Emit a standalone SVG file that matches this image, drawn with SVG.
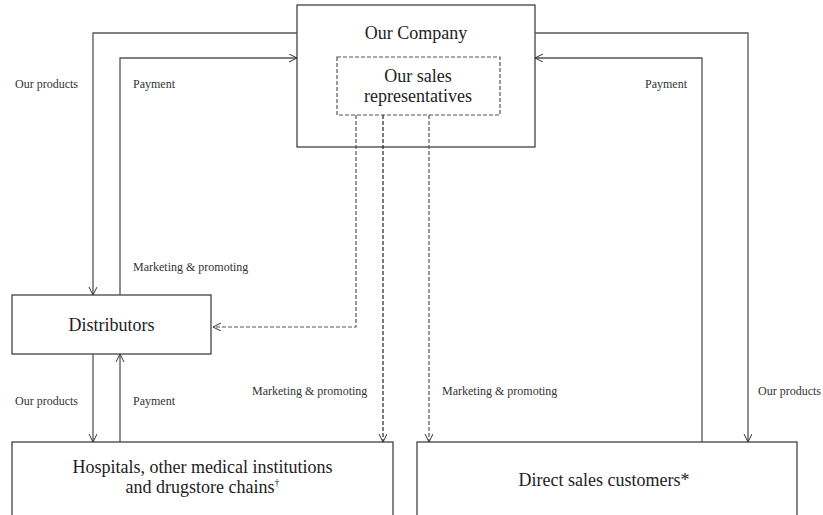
<svg xmlns="http://www.w3.org/2000/svg" width="823" height="515" viewBox="0 0 823 515">
<defs>
<marker id="ah" markerWidth="10" markerHeight="10" refX="8" refY="4" orient="auto" markerUnits="userSpaceOnUse">
<path d="M0,0 L8,4 L0,8" fill="none" stroke="#333" stroke-width="1"/>
</marker>
<style>
.box{fill:#fff;stroke:#333;stroke-width:1.2}
.dbox{fill:none;stroke:#555;stroke-width:1.2;stroke-dasharray:4,2}
.ln{fill:none;stroke:#555;stroke-width:1.3}
.dl{fill:none;stroke:#555;stroke-width:1.2;stroke-dasharray:4,2}
.big{font-family:"Liberation Serif","Times New Roman",serif;font-size:18px;fill:#222;text-anchor:middle}
.sm{font-family:"Liberation Serif","Times New Roman",serif;font-size:12px;fill:#333}
</style>
</defs>
<g id="company">
<rect class="box" x="297" y="5" width="238" height="142"/>
<text class="big" x="416" y="39">Our Company</text>
</g>
<g id="sales-reps">
<rect class="dbox" x="337" y="57" width="163" height="58"/>
<text class="big" x="418" y="82">Our sales</text>
<text class="big" x="418" y="102">representatives</text>
</g>
<g id="distributors">
<rect class="box" x="12" y="295" width="199" height="59"/>
<text class="big" x="111.5" y="331">Distributors</text>
</g>
<g id="hospitals">
<rect class="box" x="12" y="442" width="381" height="80"/>
<text class="big" x="202.5" y="473">Hospitals, other medical institutions</text>
<text class="big" x="202.5" y="493">and drugstore chains<tspan font-size="10" dy="-7">†</tspan></text>
</g>
<g id="direct">
<rect class="box" x="417" y="442" width="380" height="80"/>
<text class="big" x="604" y="486">Direct sales customers*</text>
</g>
<g id="connectors">
<polyline class="ln" points="297,33 93,33 93,295" marker-end="url(#ah)"/>
<polyline class="ln" points="120,295 120,58 297,58" marker-end="url(#ah)"/>
<polyline class="ln" points="93,354 93,442" marker-end="url(#ah)"/>
<polyline class="ln" points="120,442 120,354" marker-end="url(#ah)"/>
<polyline class="ln" points="535,33 748,33 748,442" marker-end="url(#ah)"/>
<polyline class="ln" points="702,442 702,58 535,58" marker-end="url(#ah)"/>
<polyline class="dl" points="356,115 356,327 213,327" marker-end="url(#ah)"/>
<polyline class="dl" style="stroke:#222" points="383,115 383,442" marker-end="url(#ah)"/>
<polyline class="dl" points="429,115 429,442" marker-end="url(#ah)"/>
</g>
<g id="labels">
<text class="sm" x="15" y="88">Our products</text>
<text class="sm" x="133" y="88">Payment</text>
<text class="sm" x="645" y="88">Payment</text>
<text class="sm" x="133" y="271">Marketing &amp; promoting</text>
<text class="sm" x="15" y="405">Our products</text>
<text class="sm" x="133" y="405">Payment</text>
<text class="sm" x="252" y="395">Marketing &amp; promoting</text>
<text class="sm" x="442" y="395">Marketing &amp; promoting</text>
<text class="sm" x="758" y="395">Our products</text>
</g>
</svg>
